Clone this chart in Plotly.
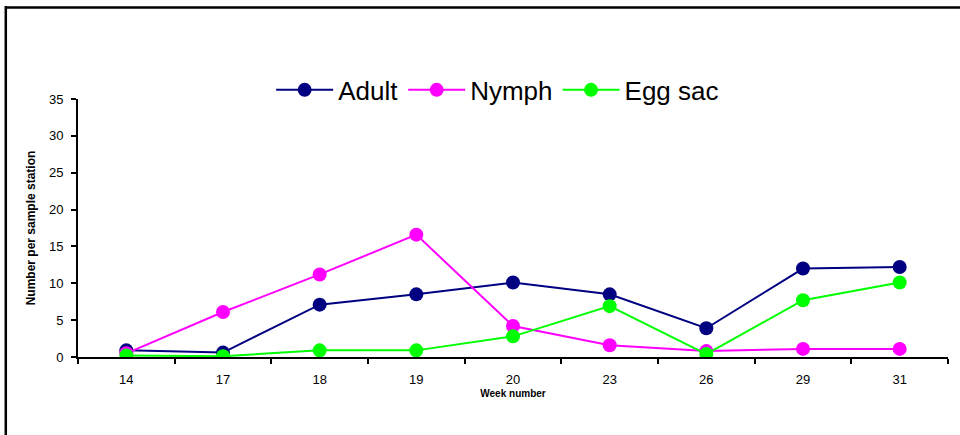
import plotly.graph_objects as go

# Survey weeks (categorical axis)
weeks = ["14", "17", "18", "19", "20", "23", "26", "29", "31"]

# Mean counts per sample station
adult = [0.9, 0.6, 7.1, 8.5, 10.1, 8.5, 3.9, 12.0, 12.2]
nymph = [0.5, 6.1, 11.2, 16.6, 4.2, 1.6, 0.8, 1.1, 1.1]
egg_sac = [0.2, 0.1, 0.9, 0.9, 2.8, 6.9, 0.4, 7.7, 10.1]

series = [
    ("Adult", adult, "#000080"),
    ("Nymph", nymph, "#ff00ff"),
    ("Egg sac", egg_sac, "#00ff00"),
]

fig = go.Figure()
for name, values, color in series:
    fig.add_trace(go.Scatter(
        x=weeks, y=values, name=name, mode="lines+markers",
        line=dict(color=color, width=2),
        marker=dict(color=color, size=14),
    ))

fig.update_layout(
    width=960, height=435,
    margin=dict(l=78, r=12, t=99, b=78),
    paper_bgcolor="white", plot_bgcolor="white",
    font=dict(family="Liberation Sans, Arial, sans-serif", color="#000"),
    showlegend=True,
    legend=dict(
        orientation="h", x=0.222, xanchor="left", y=1.035, yanchor="middle",
        font=dict(size=26, color="#000"), itemwidth=57,
        bgcolor="rgba(0,0,0,0)", tracegroupgap=0,
    ),
    xaxis=dict(
        type="category", range=[-0.5, 8.5],
        showline=True, linecolor="#000", linewidth=2,
        ticks="outside", tickson="boundaries", ticklen=5, tickwidth=2,
        tickcolor="#000", showgrid=False, zeroline=False,
        tickfont=dict(size=13), ticklabelstandoff=9,
        title=dict(text="Week number", standoff=4,
                   font=dict(size=10, weight="bold")),
    ),
    yaxis=dict(
        range=[0, 35], dtick=5,
        showline=True, linecolor="#000", linewidth=2,
        ticks="outside", ticklen=5, tickwidth=2, tickcolor="#000",
        showgrid=False, zeroline=False,
        tickfont=dict(size=13), ticklabelstandoff=5,
        title=dict(text="Number per sample station", standoff=11,
                   font=dict(size=12, weight="bold")),
    ),
)

# Outer chart frame (top and left borders)
fig.add_shape(type="line", xref="paper", yref="paper",
              x0=-0.083, x1=1.0138, y0=1.355, y1=1.355,
              line=dict(color="#000", width=2.5))
fig.add_shape(type="line", xref="paper", yref="paper",
              x0=-0.083, x1=-0.083, y0=1.36, y1=-0.31,
              line=dict(color="#000", width=2.5))

fig.write_html("out.html")
